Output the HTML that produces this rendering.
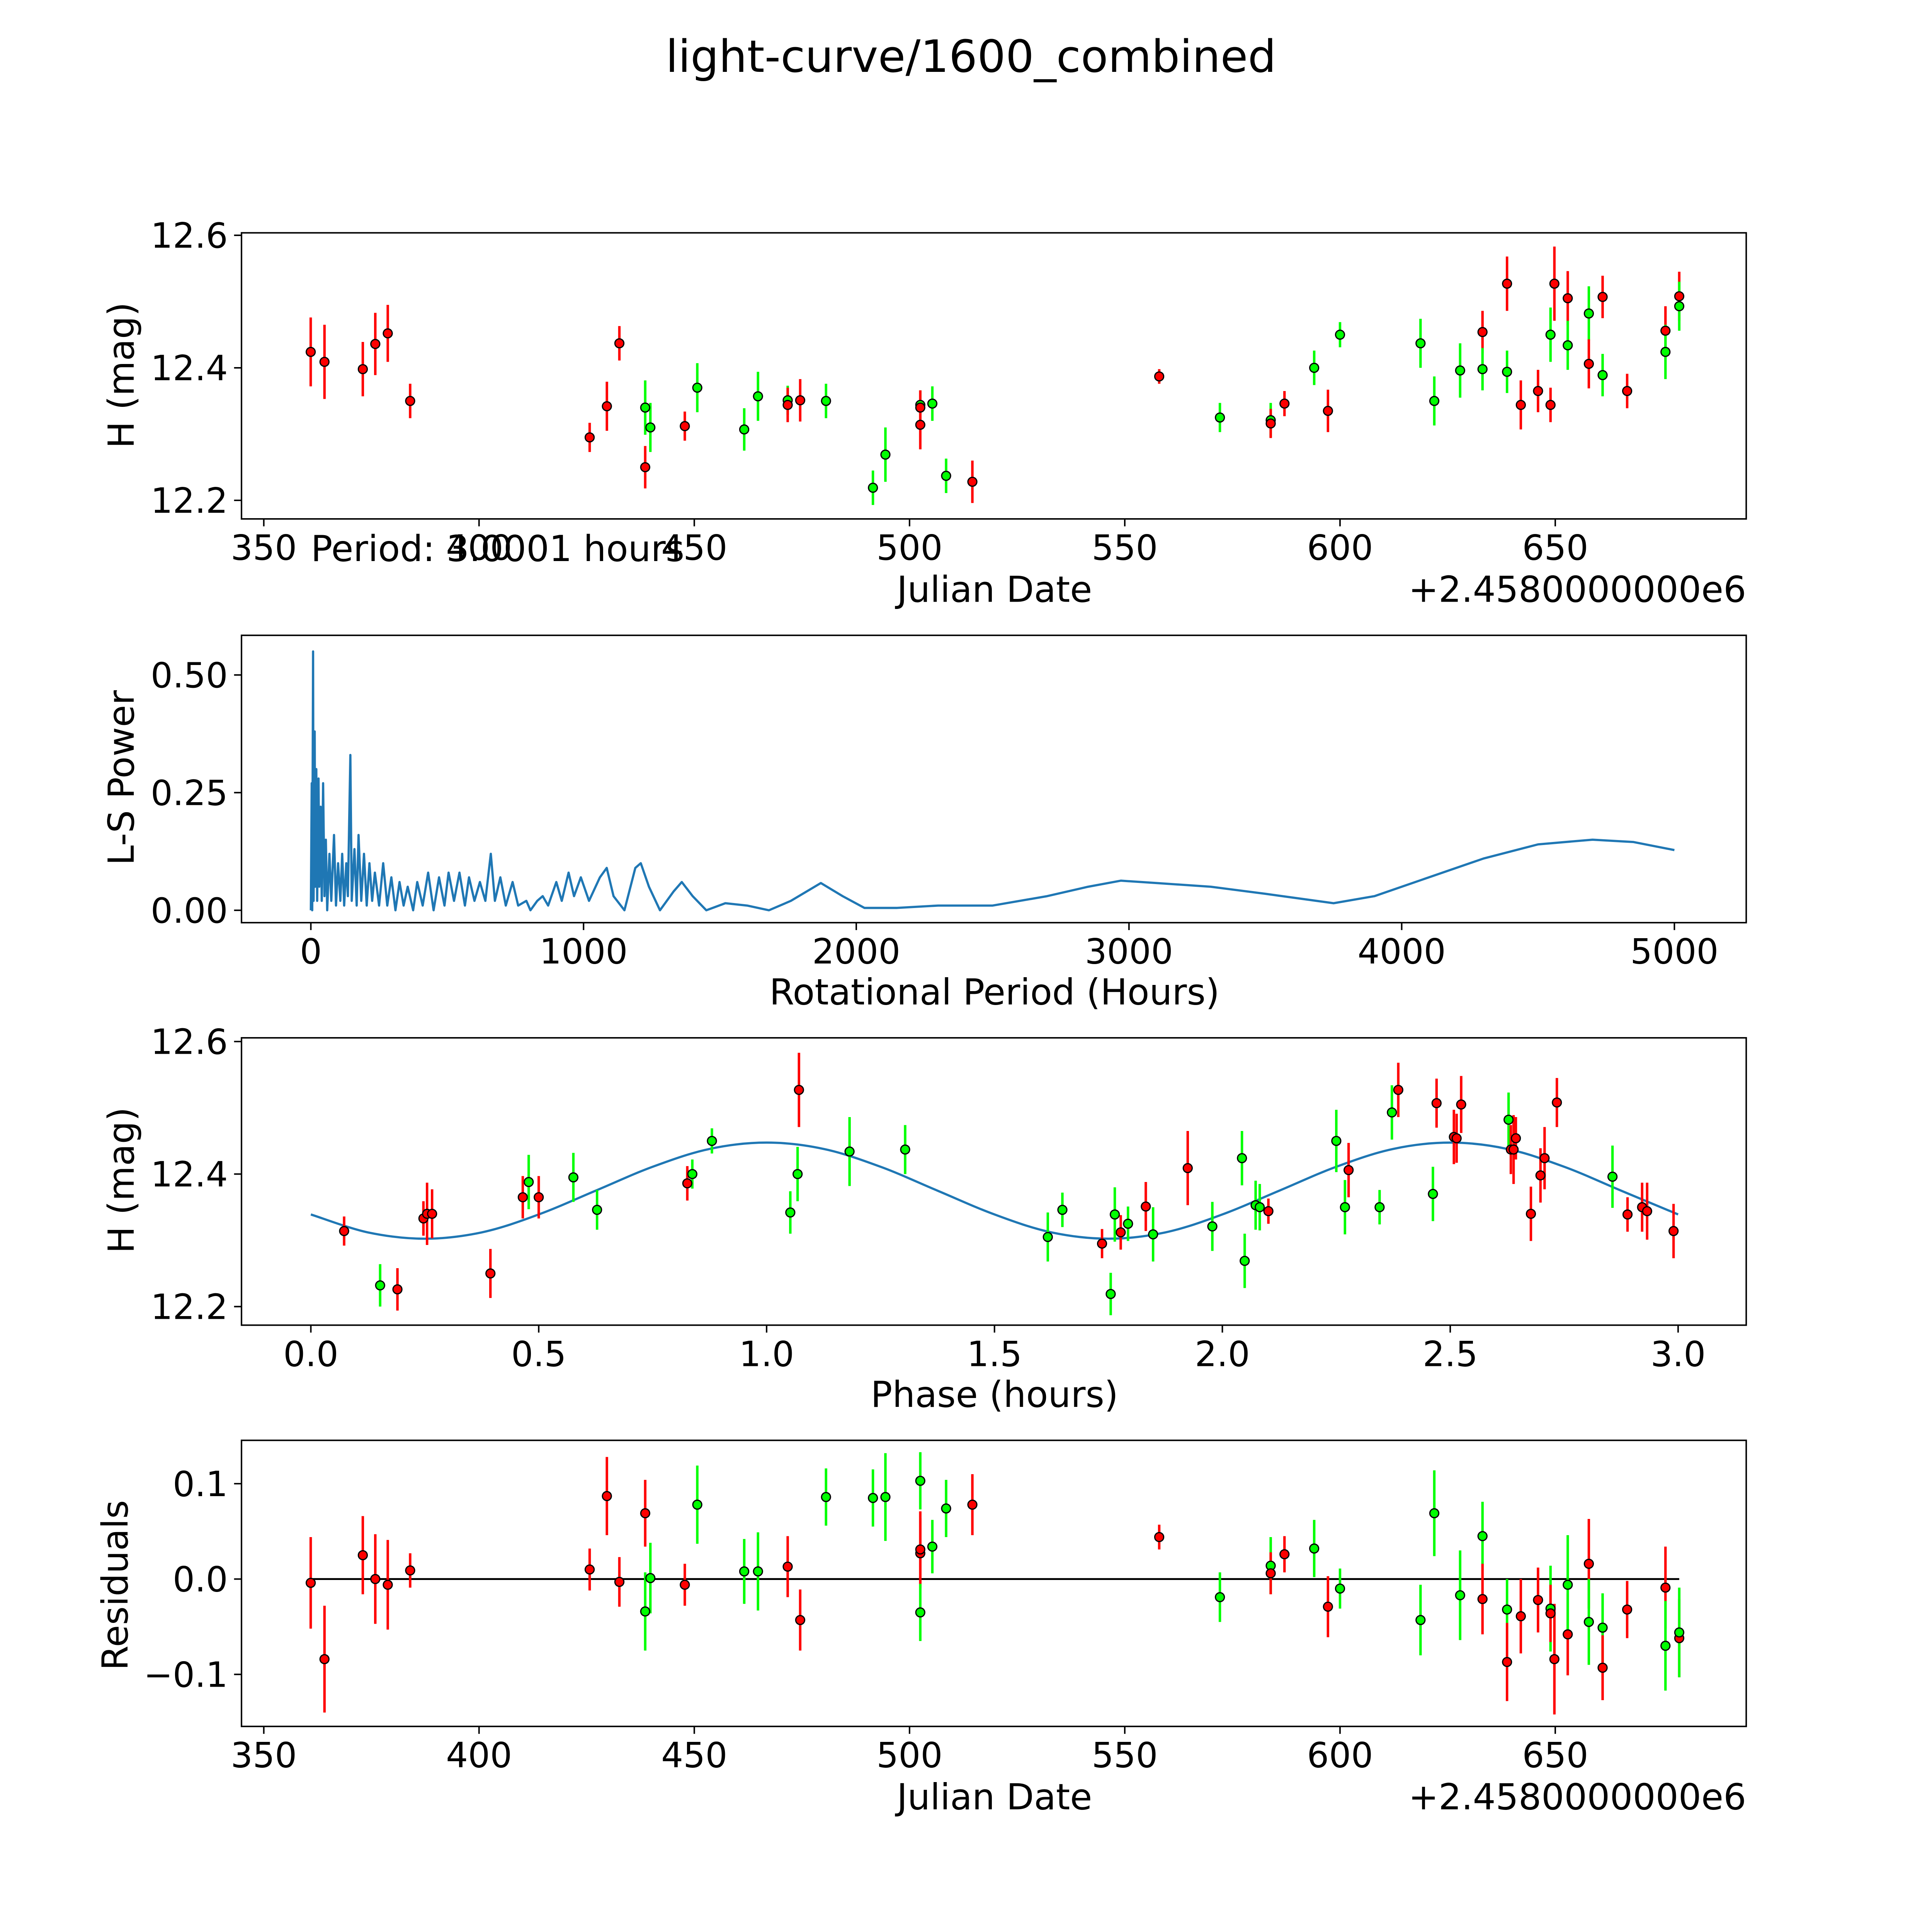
<!DOCTYPE html>
<html><head><meta charset="utf-8"><style>html,body{margin:0;padding:0;background:#fff;width:100%;height:100%;overflow:hidden}svg{display:block;width:100vw;height:100vh}text{font-family:"DejaVu Sans","Liberation Sans",sans-serif;fill:#000}</style></head>
<body>
<svg id="fig" xmlns="http://www.w3.org/2000/svg" viewBox="0 0 1560 1560" preserveAspectRatio="none">
<rect x="0" y="0" width="1560" height="1560" fill="#fff"/>
<text x="784" y="58" font-size="36" text-anchor="middle">light-curve/1600_combined</text>
</svg>
<script>
// ---- Panel 1: light curve (Julian date offset from 2458000) ----
const lcJD   = [360.9,364.1,373.0,375.9,378.8,384.0,425.7,429.7,432.6,438.6,438.6,439.8,447.8,450.7,461.6,464.8,471.7,471.7,474.6,480.6,491.5,494.4,502.5,502.5,502.5,505.3,508.5,514.6,558.0,572.1,583.9,583.9,587.1,594.0,597.2,600.0,618.7,621.9,627.9,633.1,633.1,638.8,638.8,642.0,646.0,648.9,648.9,649.8,652.9,652.9,657.8,657.8,661.0,661.0,666.7,675.6,675.6,678.8,678.8];
const lcMag  = [12.424,12.409,12.398,12.436,12.452,12.350,12.295,12.342,12.437,12.340,12.250,12.310,12.312,12.370,12.307,12.357,12.351,12.344,12.351,12.350,12.219,12.269,12.344,12.340,12.314,12.346,12.237,12.228,12.387,12.325,12.321,12.316,12.346,12.400,12.335,12.450,12.437,12.350,12.396,12.454,12.398,12.527,12.394,12.344,12.365,12.450,12.344,12.527,12.505,12.434,12.482,12.406,12.507,12.389,12.365,12.456,12.424,12.508,12.493];
const lcErr  = [0.052,0.056,0.041,0.047,0.043,0.026,0.022,0.037,0.026,0.041,0.032,0.037,0.022,0.037,0.032,0.037,0.022,0.026,0.032,0.026,0.026,0.041,0.022,0.026,0.037,0.026,0.026,0.032,0.011,0.022,0.026,0.022,0.019,0.026,0.032,0.019,0.037,0.037,0.041,0.032,0.032,0.041,0.032,0.037,0.032,0.041,0.026,0.056,0.041,0.037,0.041,0.037,0.032,0.032,0.026,0.037,0.041,0.037,0.037];
const lcColor= ['r','r','r','r','r','r','r','r','r','g','r','g','r','g','g','g','g','r','r','g','g','g','g','r','r','g','g','r','r','g','g','r','r','g','r','g','g','g','g','r','g','r','g','r','r','g','r','r','r','g','g','r','r','g','r','r','g','r','g'];
const jdTicks = [350,400,450,500,550,600,650];
const magTicks = [12.2,12.4,12.6];

// ---- Panel 2: Lomb-Scargle periodogram ----
const lsPeriod = [0,3,5,8,10,14,16,20,23,28,31,36,40,45,50,55,60,68,75,85,92,100,108,115,122,130,136,145,150,160,168,175,185,195,205,215,225,235,250,265,280,295,310,325,340,355,375,390,410,430,450,470,490,505,525,545,565,580,600,620,640,660,675,695,715,740,760,790,805,830,850,870,900,920,945,965,990,1020,1060,1085,1110,1150,1190,1210,1240,1280,1330,1360,1400,1450,1520,1600,1680,1760,1870,1950,2030,2150,2300,2500,2700,2850,2970,3100,3300,3500,3750,3900,4100,4300,4500,4700,4850,5000];
const lsPower  = [0,0.27,0,0.55,0.02,0.38,0.05,0.30,0.02,0.28,0.05,0.22,0.02,0.27,0.03,0.15,0,0.12,0.02,0.16,0.01,0.10,0.02,0.12,0.01,0.10,0.03,0.33,0.02,0.13,0.01,0.16,0.02,0.12,0.01,0.10,0.02,0.08,0.01,0.10,0.01,0.07,0.0,0.06,0.01,0.05,0.0,0.06,0.01,0.08,0.0,0.07,0.01,0.08,0.02,0.08,0.01,0.07,0.02,0.06,0.02,0.12,0.02,0.07,0.01,0.06,0.01,0.02,0.0,0.02,0.03,0.01,0.06,0.02,0.08,0.03,0.07,0.02,0.07,0.09,0.03,0.0,0.09,0.10,0.05,0.0,0.04,0.06,0.03,0.0,0.015,0.01,0.0,0.02,0.058,0.03,0.005,0.005,0.01,0.01,0.03,0.05,0.063,0.058,0.05,0.035,0.015,0.03,0.07,0.11,0.14,0.15,0.145,0.128];
const periodTicks = [0,1000,2000,3000,4000,5000];
const powerTicks = [0.00,0.25,0.50];

// ---- Panel 3: phased light curve ----
const phPhase = [0.073,0.152,0.190,0.247,0.255,0.266,0.394,0.465,0.478,0.500,0.576,0.628,0.826,0.837,0.880,1.052,1.068,1.071,1.182,1.304,1.617,1.649,1.736,1.755,1.764,1.777,1.793,1.832,1.848,1.924,1.978,2.043,2.049,2.073,2.082,2.101,2.250,2.269,2.277,2.345,2.372,2.386,2.462,2.470,2.508,2.514,2.524,2.628,2.633,2.639,2.644,2.677,2.698,2.707,2.734,2.856,2.889,2.921,2.932,2.990];
const phMag   = [12.314,12.232,12.226,12.333,12.340,12.340,12.250,12.365,12.388,12.365,12.395,12.346,12.386,12.400,12.450,12.342,12.400,12.527,12.434,12.437,12.305,12.346,12.295,12.219,12.339,12.312,12.325,12.351,12.309,12.409,12.321,12.424,12.269,12.353,12.350,12.344,12.450,12.350,12.406,12.350,12.493,12.527,12.370,12.507,12.456,12.454,12.505,12.482,12.437,12.437,12.454,12.340,12.398,12.424,12.508,12.396,12.339,12.350,12.344,12.314];
const phErr   = [0.022,0.032,0.032,0.026,0.047,0.037,0.037,0.032,0.041,0.032,0.037,0.030,0.026,0.022,0.019,0.032,0.041,0.056,0.052,0.037,0.037,0.026,0.022,0.032,0.041,0.026,0.026,0.037,0.041,0.056,0.037,0.041,0.041,0.037,0.035,0.019,0.047,0.041,0.041,0.026,0.041,0.041,0.041,0.037,0.041,0.037,0.043,0.041,0.037,0.052,0.032,0.041,0.041,0.047,0.037,0.047,0.026,0.037,0.043,0.041];
const phColor = ['r','g','r','r','r','r','r','r','g','r','g','g','r','g','g','g','g','r','g','g','g','g','r','g','g','r','g','r','g','r','g','g','g','g','g','r','g','g','r','g','g','r','g','r','r','r','r','g','r','r','r','r','r','r','r','g','r','r','r','r'];
const fitPhase = [0,0.125,0.25,0.375,0.5,0.625,0.75,0.875,1.0,1.125,1.25,1.375,1.5,1.625,1.75,1.875,2.0,2.125,2.25,2.375,2.5,2.625,2.75,2.875,3.0];
const fitMag   = [12.339,12.312,12.3025,12.312,12.339,12.375,12.411,12.438,12.4475,12.438,12.411,12.375,12.339,12.312,12.3025,12.312,12.339,12.375,12.411,12.438,12.4475,12.438,12.411,12.375,12.339];
const phaseTicks = [0.0,0.5,1.0,1.5,2.0,2.5,3.0];

// ---- Panel 4: residuals ----
const resJD  = [360.9,364.1,373.0,375.9,378.8,384.0,425.7,429.7,432.6,438.6,438.6,439.8,447.8,450.7,461.6,464.8,471.7,474.6,480.6,491.5,494.4,502.5,502.5,502.5,502.5,505.3,508.5,514.6,558.0,572.1,583.9,583.9,587.1,594.0,597.2,600.0,618.7,621.9,627.9,633.1,633.1,638.8,638.8,642.0,646.0,648.9,648.9,649.8,652.9,652.9,657.8,657.8,661.0,661.0,666.7,675.6,675.6,678.8,678.8];
const resVal = [-0.004,-0.084,0.025,0.0,-0.006,0.009,0.010,0.087,-0.003,0.069,-0.034,0.001,-0.006,0.078,0.008,0.008,0.013,-0.043,0.086,0.085,0.086,0.103,0.027,0.031,-0.035,0.034,0.074,0.078,0.044,-0.019,0.014,0.006,0.026,0.032,-0.029,-0.010,-0.043,0.069,-0.017,0.045,-0.021,-0.032,-0.087,-0.039,-0.022,-0.031,-0.036,-0.084,-0.058,-0.006,0.016,-0.045,-0.051,-0.093,-0.032,-0.009,-0.070,-0.062,-0.056];
const resErr = [0.048,0.056,0.041,0.047,0.047,0.018,0.022,0.041,0.026,0.035,0.041,0.037,0.022,0.041,0.034,0.041,0.032,0.032,0.030,0.030,0.046,0.030,0.037,0.040,0.030,0.028,0.030,0.032,0.013,0.026,0.030,0.022,0.019,0.030,0.032,0.021,0.037,0.045,0.047,0.036,0.037,0.032,0.041,0.039,0.034,0.045,0.030,0.058,0.043,0.052,0.047,0.045,0.036,0.034,0.030,0.043,0.047,0.041,0.047];
const resColor=['r','r','r','r','r','r','r','r','r','r','g','g','r','g','g','g','r','r','g','g','g','g','r','r','g','g','g','r','r','g','g','r','r','g','r','g','g','g','g','g','r','g','r','r','r','g','r','r','r','g','r','g','g','r','r','r','g','r','g'];
const resTicks = [-0.1,0.0,0.1];

const NS='http://www.w3.org/2000/svg';
const svg=document.getElementById('fig');
function mk(tag,attrs,parent){const e=document.createElementNS(NS,tag);for(const k in attrs)e.setAttribute(k,attrs[k]);(parent||svg).appendChild(e);return e;}
const COL={r:'#ff0000',g:'#00ff00'};
const xJD=v=>213+(v-350)*173.8/50;
const yMag1=v=>190+(12.6-v)*535;
const xPer=v=>251+v*0.2202;
const yPow=v=>735-v*380;
const xPh=v=>251+v*368;
const yMag3=v=>841+(12.6-v)*535;
const yRes=v=>1275-v*770;

function frame(name,y0,y1){
  const r=mk('rect',{x:195,y:y0,width:1215,height:y1-y0,fill:'none',stroke:'#000','stroke-width':1.2});
  
  
}
function xticks(name,ticks,fx,yb,fmt){
  const g=mk('g',{});
  
  
  ticks.forEach(t=>{const x=fx(t);mk('line',{x1:x,x2:x,y1:yb,y2:yb+6,stroke:'#000','stroke-width':1.2},g);
    const tx=mk('text',{x:x,y:yb+33,'font-size':28,'text-anchor':'middle'},g);tx.textContent=fmt(t);});
}
function yticks(name,ticks,fy,fmt){
  const g=mk('g',{});
  
  
  ticks.forEach(t=>{const y=fy(t);mk('line',{x1:189,x2:195,y1:y,y2:y,stroke:'#000','stroke-width':1.2},g);
    const tx=mk('text',{x:184,y:y+10,'font-size':28,'text-anchor':'end'},g);tx.textContent=fmt(t);});
}
function label(name,txt,x,y,rot,anchor){
  const t=mk('text',{x:x,y:y,'font-size':29,'text-anchor':anchor||'middle'});
  if(rot)t.setAttribute('transform','rotate(-90 '+x+' '+y+')');
  t.textContent=txt;
  
  
}
function points(name,xs,ys,es,cs,fx,fy){
  const g=mk('g',{});
  
  
  xs.forEach((xv,i)=>{const x=fx(xv);const c=COL[cs[i]];
    const l=mk('line',{x1:x,x2:x,y1:fy(ys[i]-es[i]),y2:fy(ys[i]+es[i]),stroke:c,'stroke-width':2},g);
    
    
  });
  xs.forEach((xv,i)=>{const c=COL[cs[i]];
    const p=mk('circle',{cx:fx(xv),cy:fy(ys[i]),r:3.6,fill:c,stroke:'#000','stroke-width':1},g);
    
    
  });
}
const m1=t=>t.toFixed(1);
frame('lightcurve-axes',188,419);
xticks('lightcurve-x-ticks',jdTicks,xJD,419,t=>String(t));
yticks('lightcurve-y-ticks',magTicks,yMag1,m1);
points('lightcurve-points',lcJD,lcMag,lcErr,lcColor,xJD,yMag1);
label('lightcurve-y-axis-title','H (mag)',108,303,true);
label('lightcurve-x-axis-title','Julian Date',803,486);
label('lightcurve-x-offset','+2.4580000000e6',1410,486,false,'end');
label('period-annotation','Period: 3.0001 hours',251,453,false,'start');
frame('periodogram-axes',513,745);
xticks('periodogram-x-ticks',periodTicks,xPer,745,t=>String(t));
yticks('periodogram-y-ticks',powerTicks,yPow,t=>t.toFixed(2));
(function(){let d='';lsPeriod.forEach((p,i)=>{d+=(i?'L':'M')+xPer(p).toFixed(1)+','+yPow(lsPower[i]).toFixed(1);});
 const pl=mk('path',{d:d,fill:'none',stroke:'#1f77b4','stroke-width':1.8,'stroke-linejoin':'round'});
 
 })();
label('periodogram-y-axis-title','L-S Power',108,628,true);
label('periodogram-x-axis-title','Rotational Period (Hours)',803,811);
frame('phase-axes',838,1070);
xticks('phase-x-ticks',phaseTicks,xPh,1070,m1);
yticks('phase-y-ticks',magTicks,yMag3,m1);
(function(){const X=fitPhase.map(xPh),Y=fitMag.map(yMag3);let d='M'+X[0]+','+Y[0];
 for(let i=0;i<X.length-1;i++){const i0=Math.max(0,i-1),i3=Math.min(X.length-1,i+2);
  const c1x=X[i]+(X[i+1]-X[i0])/6,c1y=Y[i]+(Y[i+1]-Y[i0])/6,c2x=X[i+1]-(X[i3]-X[i])/6,c2y=Y[i+1]-(Y[i3]-Y[i])/6;
  d+='C'+c1x.toFixed(1)+','+c1y.toFixed(1)+' '+c2x.toFixed(1)+','+c2y.toFixed(1)+' '+X[i+1].toFixed(1)+','+Y[i+1].toFixed(1);}
 const pl=mk('path',{d:d,fill:'none',stroke:'#1f77b4','stroke-width':1.8});
 
 })();
points('phase-points',phPhase,phMag,phErr,phColor,xPh,yMag3);
label('phase-y-axis-title','H (mag)',108,953,true);
label('phase-x-axis-title','Phase (hours)',803,1136);
frame('residuals-axes',1163,1394);
xticks('residuals-x-ticks',jdTicks,xJD,1394,t=>String(t));
yticks('residuals-y-ticks',resTicks,yRes,t=>t===0?'0.0':(t<0?'\u2212'+Math.abs(t).toFixed(1):t.toFixed(1)));
(function(){const l=mk('line',{x1:xJD(lcJD[0]),x2:xJD(lcJD[lcJD.length-1]),y1:yRes(0),y2:yRes(0),stroke:'#000','stroke-width':1.5});
 
 })();
points('residual-points',resJD,resVal,resErr,resColor,xJD,yRes);
label('residuals-y-axis-title','Residuals',103,1280,true);
label('residuals-x-axis-title','Julian Date',803,1461);
label('residuals-x-offset','+2.4580000000e6',1410,1461,false,'end');
</script>
</body></html>
